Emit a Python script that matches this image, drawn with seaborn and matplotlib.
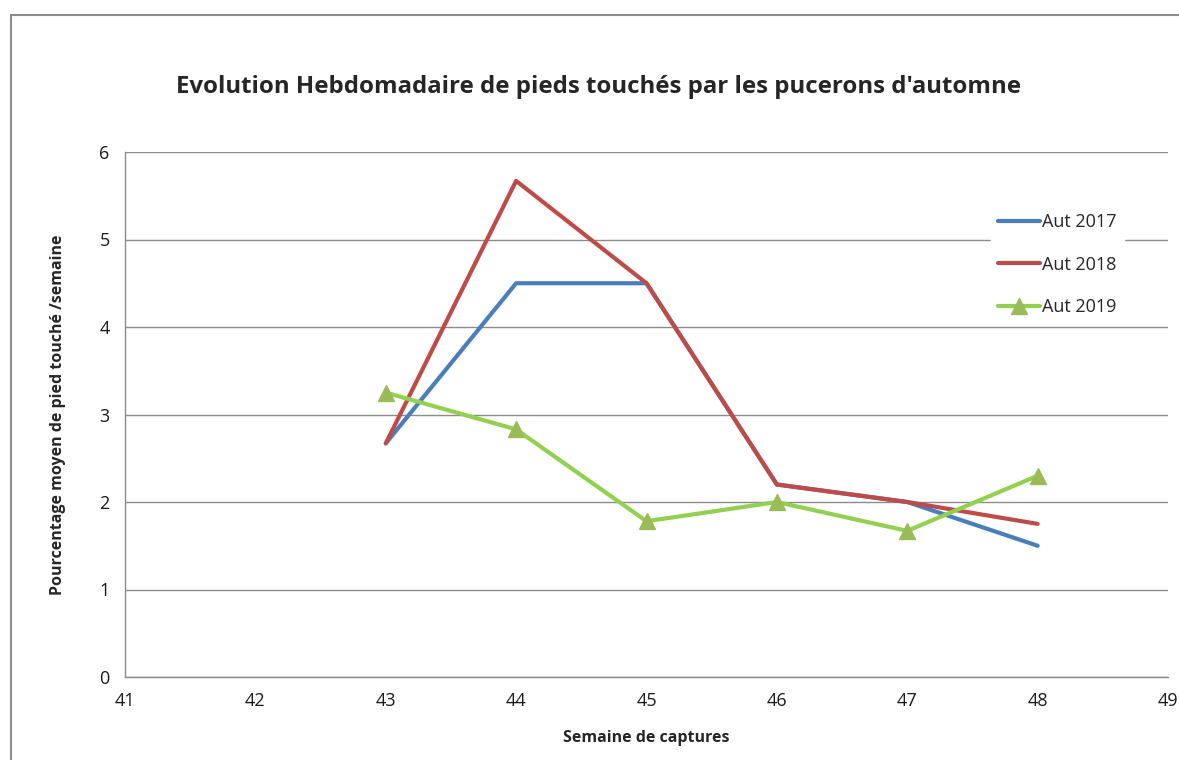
import matplotlib
matplotlib.use("Agg")
import matplotlib.pyplot as plt
import pandas as pd
import seaborn as sns
from matplotlib.patches import Rectangle

weeks = [43, 44, 45, 46, 47, 48]
aut_2017 = [2.67, 4.5, 4.5, 2.2, 2.0, 1.5]
aut_2018 = [2.67, 5.67, 4.5, 2.2, 2.0, 1.75]
aut_2019 = [3.25, 2.83, 1.78, 2.0, 1.67, 2.3]
series_names = ["Aut 2017", "Aut 2018", "Aut 2019"]

df = pd.DataFrame({"semaine": weeks * 3,
                   "valeur": aut_2017 + aut_2018 + aut_2019,
                   "serie": [n for n in series_names for _ in weeks]})

sns.set_theme(style="white")
plt.rcParams['font.family'] = ['Open Sans', 'DejaVu Sans']

fig = plt.figure(figsize=(11.79, 7.60), dpi=100)
ax = fig.add_axes([125 / 1179, 83 / 760, 1043 / 1179, 525 / 760])

# chart frame like the spreadsheet export
fig.patches.append(Rectangle((11 / 1179, -0.1), 1.2, 745 / 760 + 0.1,
                             transform=fig.transFigure, fill=False,
                             edgecolor="#8c8c8c", linewidth=1.5))

palette = {"Aut 2017": "#4a7ebb", "Aut 2018": "#be4b48", "Aut 2019": "#92d050"}
sns.lineplot(data=df, x="semaine", y="valeur", hue="serie", palette=palette,
             linewidth=3, ax=ax, legend=False)
# triangle markers on 2019
ax.plot(weeks, aut_2019, linestyle="none", marker="^", markersize=11,
        color="#9bbb59", zorder=5)

ax.set_xlim(41, 49)
ax.set_ylim(0, 6)
ax.set_xticks(range(41, 50))
ax.set_yticks(range(0, 7))
ax.yaxis.grid(True, color="#8c8c8c", linewidth=1)
ax.set_axisbelow(True)
for s in ["top", "right"]:
    ax.spines[s].set_visible(False)
for s in ["left", "bottom"]:
    ax.spines[s].set_color("#8c8c8c")
    ax.spines[s].set_linewidth(1)
ax.tick_params(axis="both", direction="out", length=6, width=1, color="#8c8c8c",
               labelsize=13, labelcolor="#1a1a1a", pad=5)

ax.set_xlabel("Semaine de captures", fontsize=11.5, fontweight="bold", labelpad=14)
ax.set_ylabel("Pourcentage moyen de pied touché /semaine", fontsize=11.5,
              fontweight="bold", labelpad=24)
fig.text(598 / 1179, (760 - 87) / 760,
         "Evolution Hebdomadaire de pieds touchés par les pucerons d'automne",
         ha="center", va="center", fontsize=17.3, fontweight="bold")

handles = [plt.Line2D([], [], color=palette["Aut 2017"], linewidth=3),
           plt.Line2D([], [], color=palette["Aut 2018"], linewidth=3),
           plt.Line2D([], [], color=palette["Aut 2019"], linewidth=3,
                      marker="^", markersize=11, markerfacecolor="#9bbb59",
                      markeredgecolor="#9bbb59")]
leg = ax.legend(handles, series_names, loc="upper left",
                bbox_to_anchor=(982 / 1179, (760 - 197) / 760),
                bbox_transform=fig.transFigure, frameon=True, fontsize=13,
                handlelength=2.3, handletextpad=0.15, labelspacing=1.35,
                borderpad=0.4, fancybox=False)
leg.get_frame().set_edgecolor("white")
leg.get_frame().set_facecolor("white")
leg.get_frame().set_alpha(1)

fig.savefig("out.png", dpi=100)
